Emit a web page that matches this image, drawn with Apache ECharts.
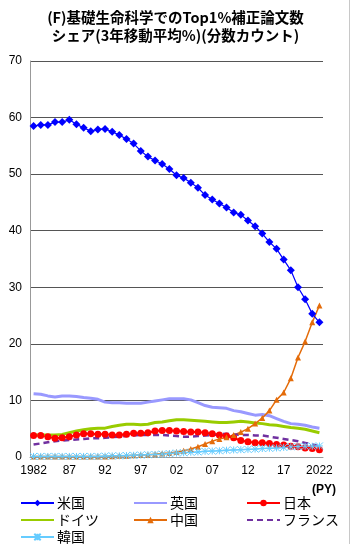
<!DOCTYPE html>
<html lang="ja">
<head>
<meta charset="UTF-8">
<title>Top1%補正論文数シェア</title>
<script src="https://cdn.jsdelivr.net/npm/echarts@6/dist/echarts.min.js"></script>
<style>
  html, body { margin: 0; padding: 0; background: #fff; }
  #main { width: 351px; height: 560px; }
  #edge { position: absolute; left: 349px; top: 0; width: 1px; height: 544px; background: #c8c8c8; }
</style>
</head>
<body>
<div id="main"></div>
<div id="edge"></div>
<script>
// 年（PY）
var years = ['1982','1983','1984','1985','1986','1987','1988','1989','1990','1991',
  '1992','1993','1994','1995','1996','1997','1998','1999','2000','2001',
  '2002','2003','2004','2005','2006','2007','2008','2009','2010','2011',
  '2012','2013','2014','2015','2016','2017','2018','2019','2020','2021','2022'];
var tickLabels = ['1982','87','92','97','02','07','12','17','2022'];

// 各国シェア（%）
var usa = [58.5,58.7,58.7,59.2,59.2,59.6,58.8,58.2,57.6,57.9,
  58.0,57.5,56.9,56.2,55.4,54.1,53.1,52.4,51.8,50.9,
  49.8,49.3,48.5,47.6,46.3,45.5,44.8,44.1,43.2,42.8,
  41.8,40.8,39.5,38.0,36.8,34.9,33.0,30.0,27.9,25.3,23.8];
var uk = [11.2,11.1,10.8,10.6,10.8,10.8,10.7,10.5,10.4,10.2,
  9.7,9.6,9.6,9.5,9.5,9.5,9.7,9.9,10.1,10.3,
  10.3,10.3,10.1,9.6,9.1,8.8,8.7,8.6,8.2,8.0,
  7.7,7.4,7.5,7.3,6.8,6.3,5.9,5.8,5.6,5.3,5.1];
var japan = [3.8,3.8,3.6,3.3,3.4,3.6,3.9,4.1,4.1,4.0,
  4.0,3.9,3.9,4.0,4.2,4.2,4.3,4.6,4.7,4.7,
  4.6,4.5,4.4,4.4,4.3,4.1,3.9,3.7,3.4,2.9,
  2.7,2.5,2.5,2.4,2.2,2.1,1.9,1.8,1.6,1.5,1.3];
var germany = [3.9,3.9,3.9,3.9,4.0,4.3,4.6,4.8,5.0,5.1,
  5.1,5.4,5.6,5.8,5.8,5.7,5.8,6.1,6.2,6.4,
  6.6,6.6,6.5,6.4,6.3,6.2,6.1,6.1,6.2,6.3,
  6.2,6.0,5.9,5.7,5.6,5.4,5.2,5.1,4.9,4.6,4.3];
var china = [0.1,0.1,0.1,0.1,0.1,0.1,0.1,0.1,0.1,0.1,
  0.1,0.15,0.2,0.2,0.3,0.35,0.4,0.5,0.6,0.7,
  0.9,1.1,1.4,1.8,2.3,2.8,3.2,3.5,3.9,4.4,
  5.0,5.9,6.9,8.2,10.1,11.4,13.9,17.6,20.4,23.8,26.8];
var france = [2.2,2.4,2.6,2.8,2.9,3.0,3.1,3.2,3.3,3.3,
  3.4,3.5,3.6,3.7,3.8,3.9,3.9,3.9,3.9,3.8,
  3.7,3.6,3.6,3.7,3.8,3.9,4.0,4.1,4.0,3.9,
  3.9,3.8,3.8,3.6,3.4,3.2,3.0,2.8,2.5,2.2,1.9];
var korea = [0.1,0.1,0.1,0.1,0.1,0.1,0.1,0.1,0.1,0.1,
  0.15,0.2,0.2,0.25,0.3,0.35,0.4,0.45,0.5,0.6,
  0.7,0.75,0.85,0.9,1.0,1.05,1.1,1.2,1.25,1.3,
  1.35,1.4,1.5,1.55,1.6,1.7,1.8,1.85,1.9,1.9,1.95];

var asterisk = 'path://M0,0L10,10M10,0L0,10M5,0L5,10M0,5L10,5';
var legendText = { fontSize: 14, color: '#000', fontFamily: 'Noto Sans CJK JP', padding: [0, 0, 0, -2] };
// 線だけの凡例（マーカーなし）
var noMark = { opacity: 0 };

var myChart = echarts.init(document.getElementById('main'));

function legendCol(x, names) {
  return {
    left: x, top: 496, orient: 'vertical', itemGap: 3,
    itemWidth: 33, itemHeight: 8, padding: 0, textStyle: legendText,
    data: names
  };
}

var option = {
  animation: false,
  title: [{
    left: 'center',
    top: 3,
    text: '(F)基礎生命科学でのTop1%補正論文数\nシェア(3年移動平均%)(分数カウント)',
    textStyle: { fontSize: 14.5, fontWeight: 'bold', lineHeight: 18, color: '#000', fontFamily: 'Noto Sans CJK JP' }
  }, {
    right: 10,
    top: 479,
    text: '(PY)',
    textStyle: { fontSize: 12, fontWeight: 'bold', color: '#000', fontFamily: 'Liberation Sans' }
  }],
  legend: [
    legendCol(20, ['米国', { name: 'ドイツ', itemStyle: noMark }, '韓国']),
    legendCol(133, [{ name: '英国', itemStyle: noMark }, '中国']),
    legendCol(246, ['日本', { name: 'フランス', itemStyle: noMark }])
  ],
  grid: { left: 30, right: 28, top: 61, bottom: 103 },
  xAxis: {
    type: 'category',
    data: years,
    boundaryGap: true,
    axisLine: { lineStyle: { color: '#999' } },
    axisTick: { show: false },
    axisLabel: {
      interval: 4,
      margin: 8,
      fontSize: 12,
      color: '#000',
      fontFamily: 'Liberation Sans',
      formatter: function (v, i) { return tickLabels[i / 5]; }
    }
  },
  yAxis: {
    type: 'value',
    min: 0, max: 70, interval: 10,
    axisLine: { show: true, lineStyle: { color: '#999' } },
    axisTick: { show: false },
    axisLabel: { fontSize: 12, color: '#000', margin: 8, fontFamily: 'Liberation Sans' },
    splitLine: { lineStyle: { color: '#555', width: 1 } }
  },
  series: [{
    name: '米国', type: 'line', data: usa,
    symbol: 'diamond', symbolSize: 8, showAllSymbol: true,
    itemStyle: { color: '#0000FF' },
    lineStyle: { color: '#0000FF', width: 1.2 },
    z: 4
  }, {
    name: '英国', type: 'line', data: uk,
    showSymbol: false,
    itemStyle: { color: '#9999FF' },
    lineStyle: { color: '#9999FF', width: 3 }
  }, {
    name: '日本', type: 'line', data: japan,
    symbol: 'circle', symbolSize: 7, showAllSymbol: true,
    itemStyle: { color: '#FF0000' },
    lineStyle: { color: '#FF0000', width: 2 }
  }, {
    name: 'ドイツ', type: 'line', data: germany,
    showSymbol: false,
    itemStyle: { color: '#99CC00' },
    lineStyle: { color: '#99CC00', width: 3 }
  }, {
    name: '中国', type: 'line', data: china,
    symbol: 'triangle', symbolSize: 6, showAllSymbol: true,
    itemStyle: { color: '#E46C0A' },
    lineStyle: { color: '#E46C0A', width: 1.5 },
    z: 3
  }, {
    name: 'フランス', type: 'line', data: france,
    showSymbol: false,
    itemStyle: { color: '#7030A0' },
    lineStyle: { color: '#7030A0', width: 2.5, type: [6, 4] }
  }, {
    name: '韓国', type: 'line', data: korea,
    symbol: asterisk, symbolSize: 7, showAllSymbol: true,
    itemStyle: { color: '#66CCFF', borderColor: '#66CCFF', borderWidth: 1 },
    lineStyle: { color: '#66CCFF', width: 1.5 }
  }]
};

myChart.setOption(option);
</script>
</body>
</html>
